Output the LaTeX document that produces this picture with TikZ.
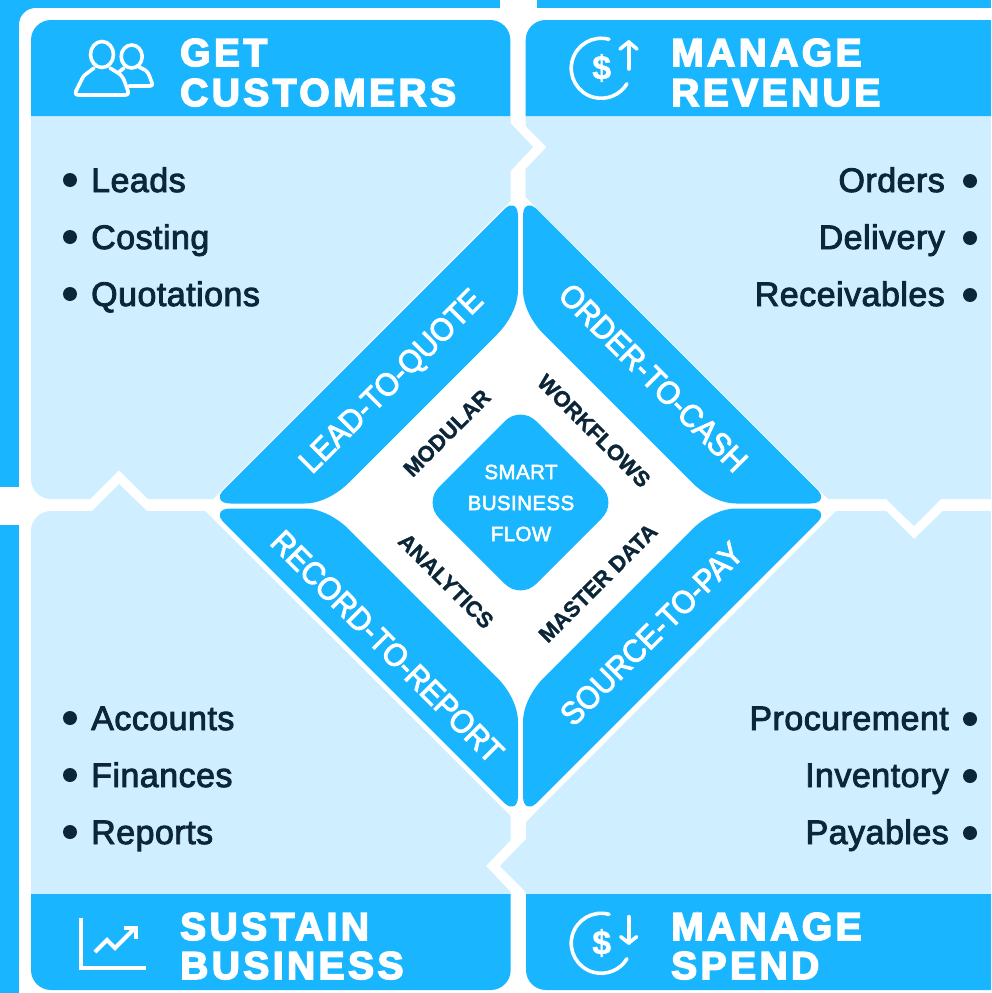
\documentclass[tikz,border=0pt]{standalone}
\usepackage{fontspec}
\setmainfont{Liberation Sans}
\newfontfamily\headfont[UprightFont=* Bold,FakeBold=4,LetterSpace=8.8]{Liberation Sans}
\newfontfamily\listfont[FakeBold=2.6,LetterSpace=1.4]{Liberation Sans}
\newfontfamily\armfont[FakeBold=2.8,FakeStretch=0.93]{Liberation Sans}
\newfontfamily\midfont[UprightFont=* Bold,FakeBold=1.2]{Liberation Sans}
\newfontfamily\corefont[FakeBold=2.6,LetterSpace=2]{Liberation Sans}
\newfontfamily\curfont[UprightFont=* Bold,FakeBold=1]{Liberation Sans}
\definecolor{bandblue}{HTML}{19B5FF}
\definecolor{lightpanel}{HTML}{CFEEFF}
\definecolor{inkdark}{HTML}{0C2639}
\tikzset{
  head/.style={anchor=base west,inner sep=0,text=white,font=\headfont\fontsize{39}{39}\selectfont},
  itemL/.style={anchor=base west,inner sep=0,text=inkdark,font=\listfont\fontsize{34}{34}\selectfont},
  itemR/.style={anchor=base east,inner sep=0,text=inkdark,font=\listfont\fontsize{34}{34}\selectfont},
  dot/.style={circle,fill=inkdark,inner sep=0,minimum size=14pt},
  armlabel/.style={inner sep=0,text=white,text height=24pt,text depth=0pt,font=\armfont\fontsize{32}{32}\selectfont},
  midlabel/.style={inner sep=0,text=inkdark,text height=15pt,text depth=0pt,font=\midfont\fontsize{22}{22}\selectfont},
  corelabel/.style={inner sep=0,text=white,font=\corefont\fontsize{20.5}{20.5}\selectfont},
  icon/.style={draw=white,line width=3.6pt,line cap=round,line join=round},
}
\begin{document}
\begin{tikzpicture}[x=1pt,y=-1pt]
\useasboundingbox (0,0) rectangle (991,993);
\clip (0,0) rectangle (991,993);
% background and white frame
\fill[bandblue] (0,0) rectangle (991,993);
\fill[white,rounded corners=17pt] (19,8) rectangle (1100,1100);
\fill[white] (0,487) rectangle (31,525);
\fill[white] (499.5,0) rectangle (536.5,20);
% light panels
\fill[lightpanel] (31,116) [rounded corners=20pt] -- (31,499) [sharp corners] -- (90,499) -- (119,470) -- (148,499) -- (213,499) -- (510.5,201) -- (510.5,171) -- (533,147) -- (510.5,123) -- (510.5,116) -- cycle;
\fill[lightpanel] (525.7,116) -- (525.7,126) -- (546.7,147) -- (525.7,169) -- (525.7,197) -- (828,499) -- (886,499) -- (914,526) -- (941,499) -- (1000,499) -- (1000,116) -- cycle;
\fill[lightpanel] (31,894) [rounded corners=20pt] -- (31,511) [sharp corners] -- (92,511) -- (119,484) -- (147,511) -- (205,511) -- (510.7,816) -- (510.7,840) -- (486,866) -- (510.7,892) -- (510.7,894) -- cycle;
\fill[lightpanel] (526,894) -- (526,892) -- (500,866) -- (526,839) -- (526,822) -- (836,511) -- (886,511) -- (914,539) -- (943,511) -- (1000,511) -- (1000,894) -- cycle;
% header bands
\fill[bandblue] (31,116) [rounded corners=20pt] -- (31,20) -- (510.3,20) [sharp corners] -- (510.3,116) -- cycle;
\fill[bandblue] (525.7,116) [rounded corners=20pt] -- (525.7,20) [sharp corners] -- (1000,20) -- (1000,116) -- cycle;
\fill[bandblue] (31,894) [rounded corners=20pt] -- (31,990) -- (510.7,990) [sharp corners] -- (510.7,894) -- cycle;
\fill[bandblue] (526,894) [rounded corners=20pt] -- (526,990) [sharp corners] -- (1000,990) -- (1000,894) -- cycle;
% four arms of the diamond
\foreach \sx/\sy in {1/1,-1/1,1/-1,-1/-1}{
\begin{scope}[shift={(520.5,506)},xscale=\sx,yscale=\sy]
\fill[bandblue] (-15,-298)
  .. controls (-11,-302) and (-2.5,-303) .. (-2.5,-290)
  -- (-2.5,-216)
  .. controls (-2.5,-200) and (-12,-183) .. (-23.5,-171.5)
  -- (-171.5,-23.5)
  .. controls (-183,-12) and (-200,-2.5) .. (-216,-2.5)
  -- (-290,-2.5)
  .. controls (-303,-2.5) and (-302,-11) .. (-298,-15)
  -- cycle;
\end{scope}}
% centre diamond
\fill[bandblue,rounded corners=22pt] (520.5,405.5) -- (617.5,502.5) -- (520.5,599.5) -- (423.5,502.5) -- cycle;
\node[corelabel] (core1) at (521,472) {SMART};
\node[corelabel] (core2) at (521,503) {BUSINESS};
\node[corelabel] (core3) at (521,534) {FLOW};
% arm labels
\node[armlabel,rotate=45] (arm1) at (390,380) {LEAD-TO-QUOTE};
\node[armlabel,rotate=-45] (arm2) at (654,377) {ORDER-TO-CASH};
\node[armlabel,rotate=-45] (arm3) at (388,646) {RECORD-TO-REPORT};
\node[armlabel,rotate=45] (arm4) at (651,633) {SOURCE-TO-PAY};
% inner labels
\node[midlabel,rotate=45] (mid1) at (447,433) {MODULAR};
\node[midlabel,rotate=-45] (mid2) at (594,431) {WORKFLOWS};
\node[midlabel,rotate=-45] (mid3) at (446,581) {ANALYTICS};
\node[midlabel,rotate=45] (mid4) at (598,583) {MASTER DATA};
% headings
\node[head] (h1a) at (180,66) {GET};
\node[head] (h1b) at (180,106) {CUSTOMERS};
\node[head] (h2a) at (671,66) {MANAGE};
\node[head] (h2b) at (671,106) {REVENUE};
\node[head] (h3a) at (180,940) {SUSTAIN};
\node[head] (h3b) at (180,979) {BUSINESS};
\node[head] (h4a) at (671,940) {MANAGE};
\node[head] (h4b) at (671,979) {SPEND};
% lists
\node[dot] (d1) at (70,180) {}; \node[itemL] (t1) at (91,192) {Leads};
\node[dot] (d2) at (70,237) {}; \node[itemL] (t2) at (91,249) {Costing};
\node[dot] (d3) at (70,294) {}; \node[itemL] (t3) at (91,306) {Quotations};
\node[dot] (d4) at (970,181) {}; \node[itemR] (t4) at (945,192) {Orders};
\node[dot] (d5) at (970,238) {}; \node[itemR] (t5) at (945,249) {Delivery};
\node[dot] (d6) at (970,295) {}; \node[itemR] (t6) at (945,306) {Receivables};
\node[dot] (d7) at (70,718) {}; \node[itemL] (t7) at (91,730) {Accounts};
\node[dot] (d8) at (70,775) {}; \node[itemL] (t8) at (91,787) {Finances};
\node[dot] (d9) at (70,832) {}; \node[itemL] (t9) at (91,844) {Reports};
\node[dot] (d10) at (970,719) {}; \node[itemR] (t10) at (949,730) {Procurement};
\node[dot] (d11) at (970,776) {}; \node[itemR] (t11) at (949,787) {Inventory};
\node[dot] (d12) at (970,833) {}; \node[itemR] (t12) at (949,844) {Payables};
% people icon
\draw[icon] (102,54.5) ellipse (11.5 and 13);
\draw[icon] (131.7,56.5) ellipse (10.5 and 11.5);
\draw[icon] (94,68) -- (86,74) .. controls (84,75) and (83,77) .. (82,79) -- (76,91) .. controls (75,94) and (76,95) .. (79,95) -- (125,95) .. controls (128,95) and (129,93) .. (128,91) -- (124,80) .. controls (122,76) and (120,74) .. (118,73) -- (110,68);
\draw[icon] (124,68) -- (119,72);
\draw[icon] (139,67) -- (145,70) .. controls (147,71) and (148,73) .. (149,75) -- (152,83) .. controls (153,85) and (152,86) .. (150,86) -- (129,86);
% dollar icons
\draw[icon] (609,39.3) arc[start angle=-75,end angle=-329,radius=30];
\node[inner sep=0,text=white,font=\curfont\fontsize{34}{34}\selectfont] (cur1) at (601.7,68) {\$};
\draw[icon] (628.7,69) -- (628.7,42);
\draw[icon] (620,49) -- (628.7,42) -- (637,49);
\draw[icon] (609,914.3) arc[start angle=-75,end angle=-329,radius=30];
\node[inner sep=0,text=white,font=\curfont\fontsize{34}{34}\selectfont] (cur2) at (601.7,943) {\$};
\draw[icon] (628.7,916.7) -- (628.7,943);
\draw[icon] (620.7,936.7) -- (628.7,943) -- (636.7,936.7);
% chart icon
\draw[white,line width=4.5pt,miter limit=10] (81,918) -- (81,968) -- (146,968);
\draw[white,line width=4pt] (95,952) -- (107,940) -- (115,948) -- (135,928);
\draw[white,line width=4pt] (124,928) -- (135.7,928) -- (135.7,939);
\end{tikzpicture}
\end{document}
